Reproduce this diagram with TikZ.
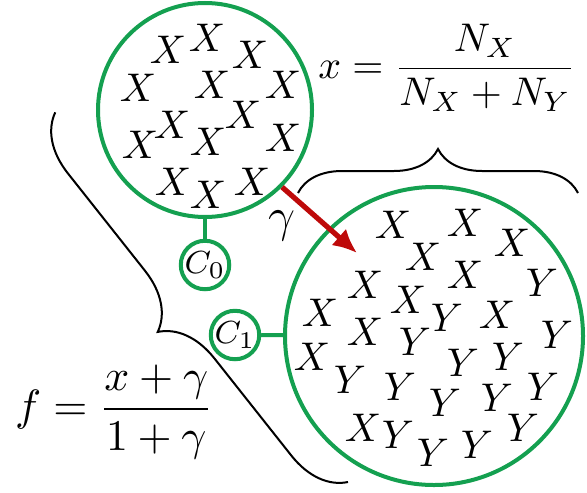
\documentclass[tikz,border=0pt]{standalone}
\usepackage{amsmath,amssymb}
\usetikzlibrary{decorations.pathreplacing,arrows.meta}
\definecolor{cgreen}{RGB}{20,160,80}
\definecolor{cred}{RGB}{190,10,10}
\tikzset{
  pool/.style={circle,draw=cgreen,line width=1pt,inner sep=0pt},
  tag/.style={circle,draw=cgreen,line width=1pt,inner sep=0pt,minimum size=11.5pt,font=\footnotesize},
  brc/.style={decorate,decoration={brace,amplitude=#1},line width=.5pt}
}
\begin{document}
\begin{tikzpicture}[x=.25pt,y=-.25pt]
    \useasboundingbox (0,0) rectangle (587,492);
    % the two pools
    \node[pool,minimum size=53.5pt] (top) at (205,110) {};
    \node[pool,minimum size=74.5pt] (big) at (434,336) {};
    % labels C_0, C_1
    \node[tag] (c0) at (205,265) {$C_0$};
    \node[tag] (c1) at (235,335) {$C_1$};
    \draw[cgreen,line width=1pt] (c0) -- (top);
    \draw[cgreen,line width=1pt] (c1) -- (big);
    % letters in the top pool
    \foreach \x/\y in {168/50,207/38,250/55,138/88,212/85,283/85,140/145,172/125,
        208/142,243/115,283/138,173/182,208/195,252/182}
    \node at (\x,\y) {$X$};
    % letters in the big pool
    \foreach \x/\y in {393/225,465/223,512/243,423/257,465/275,365/285,408/300,
        320/313,497/315,365/332,312/357,363/428}
    \node at (\x,\y) {$X$};
    \foreach \x/\y in {542/283,447/318,557/335,415/342,463/363,508/357,350/380,
        400/387,543/387,445/403,497/398,398/435,433/453,477/445,523/428}
    \node at (\x,\y) {$Y$};
    % the arrow
    \coordinate (tip) at (357,253);
    \draw[cred,line width=1.3pt,-{Latex[length=6pt,width=5.5pt]}] (top.-45) -- (tip);
    \node (gam) at (282,226) {\large$\gamma$};
    % braces
    \coordinate (b1) at (298,193);
    \coordinate (b2) at (578,193);
    \draw[brc=11pt] (b1) -- (b2);
    \coordinate (b3) at (348,482);
    \coordinate (b4) at (55,112);
    \draw[brc=14pt] (b3) -- (b4);
    % formulas
    \node (fx) at (447,68) {$x=\dfrac{N_X}{N_X+N_Y}$};
    \node[font=\fontsize{11}{13}\selectfont] (ff) at (114,412) {$f=\dfrac{x+\gamma}{1+\gamma}$};
\end{tikzpicture}
\end{document}
